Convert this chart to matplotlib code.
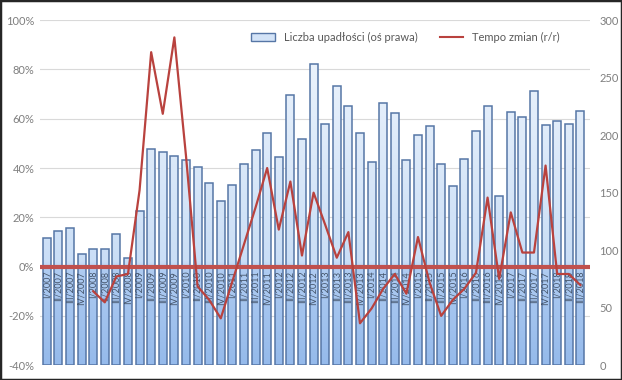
import numpy as np
import matplotlib
matplotlib.use("Agg")
import matplotlib.pyplot as plt
from matplotlib.colors import LinearSegmentedColormap
from matplotlib.lines import Line2D
from matplotlib.patches import Patch, Rectangle

plt.rcParams['font.family'] = ['Lato', 'DejaVu Sans']

# Quarters I/2007 .. III/2018
roman = ["I", "II", "III", "IV"]
quarters = [f"{roman[q]}/{y}" for y in range(2007, 2019) for q in range(4)][:47]

# Liczba upadłości (right axis)
bankruptcies = [111, 117, 119, 97, 101, 101, 114, 93, 134, 188, 185, 182,
                178, 172, 158, 143, 157, 175, 187, 202, 181, 235, 197, 262,
                210, 243, 225, 202, 177, 228, 219, 178, 200, 208, 175, 156,
                179, 204, 225, 147, 220, 216, 238, 209, 212, 210, 221]

# Tempo zmian r/r in % (left axis), starts with I/2008
yoy = [np.nan, np.nan, np.nan, np.nan,
       -10, -14.5, -4, -3, 31, 87, 62, 93,
       45, -8, -13.5, -21, -6, 9, 24, 40,
       15, 34.5, 4.5, 30, 17, 3.6, 14, -23,
       -17, -9, -3, -11, 12, -6.5, -20, -13.5,
       -9, -2.5, 28, -5, 22, 5.7, 5.7, 41,
       -3, -3, -7.5]

x = np.arange(len(quarters))

fig = plt.figure(figsize=(6.22, 3.8), dpi=100)
ax_bar = fig.add_axes([0.064, 0.039, 0.884, 0.908])
ax_line = ax_bar.twinx()

# bars (right axis)
bars = ax_bar.bar(x, bankruptcies, width=0.68, color='none',
                  edgecolor='#5676a6', linewidth=1.1, zorder=2)
cmap = LinearSegmentedColormap.from_list(
    "fill", [(0, '#95baeb'), (0.27, '#aecbf1'), (0.30, '#cadef6'), (1, '#f2f7fd')])
grad = np.linspace(0, 1, 256).reshape(-1, 1)
for b in bars:
    im = ax_bar.imshow(grad, cmap=cmap, origin='lower', aspect='auto',
                       extent=[0, 1, 0, 1], transform=ax_bar.transAxes, zorder=1)
    im.set_clip_path(b)
ax_bar.set_ylim(0, 300)
ax_bar.set_xlim(-0.6, 46.8)
ax_bar.set_yticks(range(0, 301, 50))
ax_bar.yaxis.tick_right()
ax_bar.tick_params(axis='y', length=0, labelsize=8, labelcolor='#7f7f7f', pad=7)
ax_bar.tick_params(axis='x', bottom=False, labelbottom=False)

# line (left axis)
ax_line.yaxis.tick_left()
ax_line.set_ylim(-40, 100)
ax_line.set_yticks(range(-40, 101, 20))
ax_line.set_yticklabels([f"{v}%" for v in range(-40, 101, 20)])
ax_line.tick_params(axis='y', length=0, labelsize=8, labelcolor='#7f7f7f', pad=4)
for v in range(-40, 101, 20):
    ax_bar.axhline((v + 40) * 300 / 140, color='#d9d9d9', lw=0.8, zorder=0)
ax_line.plot(x, yoy, color='#b9423e', lw=1.6, zorder=4)
ax_line.axhline(0, color='#c0504d', lw=3, zorder=3)

# category labels next to the 0% line
ax_line.xaxis.set_visible(True)
ax_line.spines['bottom'].set_position(('data', 0))
ax_line.set_xticks(x)
ax_line.set_xticklabels(quarters, rotation=90, va='top', fontsize=6.5, color='#44546a')
ax_line.tick_params(axis='x', length=0, pad=3)

for a in (ax_bar, ax_line):
    for s in a.spines.values():
        s.set_visible(False)

handles = [Patch(facecolor='#d3e3f7', edgecolor='#5676a6', lw=1),
           Line2D([], [], color='#b9423e', lw=1.5)]
ax_line.legend(handles, ["Liczba upadłości (oś prawa)", "Tempo zmian (r/r)"],
               loc='center', bbox_to_anchor=(0.665, 0.95), ncol=2, frameon=False,
               fontsize=8, labelcolor='#595959', handlelength=2.1, columnspacing=2.0,
               handleheight=0.6)

fig.patches.append(Rectangle((0, 0), 1, 1, transform=fig.transFigure, fill=False,
                             edgecolor='#262626', lw=2.5))

fig.savefig("out.png", dpi=100)
